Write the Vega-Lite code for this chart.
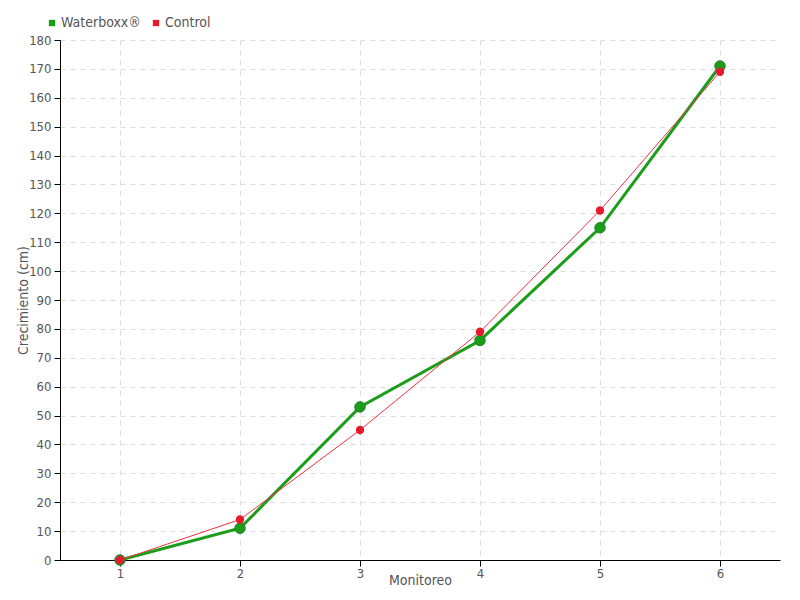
{
  "$schema": "https://vega.github.io/schema/vega-lite/v6.json",
  "width": 720,
  "height": 520,
  "autosize": "none",
  "padding": {"left": 60, "top": 40, "right": 20, "bottom": 40},
  "background": "white",
  "config": {
    "view": {"stroke": null},
    "font": "DejaVu Sans Condensed",
    "axis": {
      "labelFont": "DejaVu Sans Condensed",
      "titleFont": "DejaVu Sans Condensed",
      "labelColor": "#555555",
      "titleColor": "#555555",
      "labelFontSize": 13,
      "titleFontSize": 14,
      "titleFontWeight": "normal",
      "domainColor": "#000000",
      "tickColor": "#000000",
      "gridColor": "#dddddd",
      "gridDash": [5, 5],
      "tickSize": 6
    },
    "legend": {
      "labelFont": "DejaVu Sans Condensed",
      "labelFontSize": 14,
      "labelColor": "#555555"
    }
  },
  "data": {
    "values": [
      {"serie": "Waterboxx®", "monitoreo": 1, "crecimiento": 0},
      {"serie": "Waterboxx®", "monitoreo": 2, "crecimiento": 11},
      {"serie": "Waterboxx®", "monitoreo": 3, "crecimiento": 53},
      {"serie": "Waterboxx®", "monitoreo": 4, "crecimiento": 76},
      {"serie": "Waterboxx®", "monitoreo": 5, "crecimiento": 115},
      {"serie": "Waterboxx®", "monitoreo": 6, "crecimiento": 171},
      {"serie": "Control", "monitoreo": 1, "crecimiento": 0},
      {"serie": "Control", "monitoreo": 2, "crecimiento": 14},
      {"serie": "Control", "monitoreo": 3, "crecimiento": 45},
      {"serie": "Control", "monitoreo": 4, "crecimiento": 79},
      {"serie": "Control", "monitoreo": 5, "crecimiento": 121},
      {"serie": "Control", "monitoreo": 6, "crecimiento": 169}
    ]
  },
  "encoding": {
    "x": {
      "field": "monitoreo", "type": "quantitative",
      "scale": {"domain": [0.5, 6.5], "nice": false, "zero": false},
      "axis": {"values": [1, 2, 3, 4, 5, 6], "title": "Monitoreo", "titleY": 13, "titleBaseline": "top", "labelPadding": 1}
    },
    "y": {
      "field": "crecimiento", "type": "quantitative",
      "scale": {"domain": [0, 180], "nice": false},
      "axis": {"values": [0,10,20,30,40,50,60,70,80,90,100,110,120,130,140,150,160,170,180], "title": "Crecimiento (cm)", "titleX": -30, "labelPadding": 3}
    }
  },
  "layer": [
    {
      "transform": [{"filter": "datum.serie === 'Waterboxx®'"}],
      "mark": {"type": "line", "strokeWidth": 3, "color": "#1a9e1a"}
    },
    {
      "transform": [{"filter": "datum.serie === 'Waterboxx®'"}],
      "mark": {"type": "point", "filled": true, "size": 110, "stroke": "#2a7a2a", "strokeWidth": 1, "opacity": 1},
      "encoding": {
        "color": {
          "field": "serie", "type": "nominal",
          "scale": {"domain": ["Waterboxx®", "Control"], "range": ["#1a9e1a", "#e8192c"]},
          "legend": {
            "title": null, "orient": "none", "legendX": -15, "legendY": -24,
            "direction": "horizontal", "symbolType": "square", "symbolSize": 40,
            "symbolStrokeWidth": 0, "columnPadding": 8, "labelOffset": 2
          }
        }
      }
    },
    {
      "transform": [{"filter": "datum.serie === 'Control'"}],
      "mark": {"type": "line", "strokeWidth": 1, "color": "#f0303f"}
    },
    {
      "transform": [{"filter": "datum.serie === 'Control'"}],
      "mark": {"type": "point", "filled": true, "size": 70, "color": "#e8192c", "opacity": 1}
    }
  ]
}
